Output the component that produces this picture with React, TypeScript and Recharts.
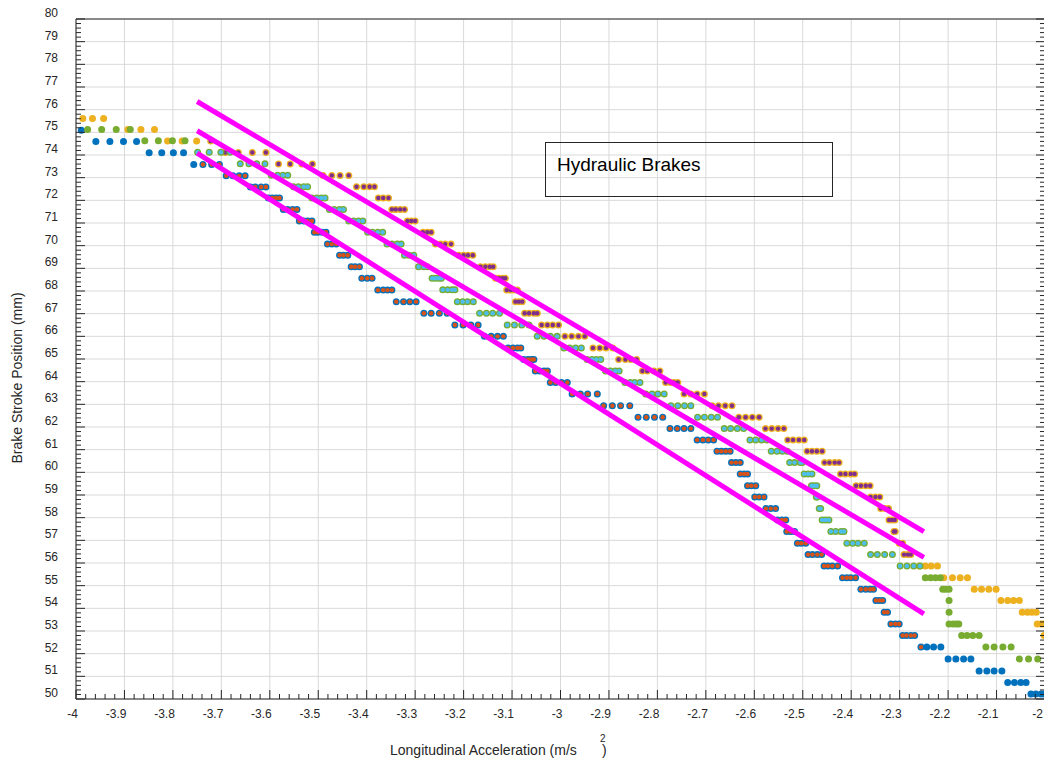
import React from 'react';
import { ScatterChart, Scatter, XAxis, YAxis, CartesianGrid } from 'recharts';

type Row = [number, number[]];

// brake stroke (mm) per quantised row, then the acceleration readings on that row
const blueRows: Row[] = [
  [75.09, [-3.989]],
  [74.6, [-3.959, -3.93, -3.902, -3.875]],
  [74.1, [-3.849, -3.823, -3.799, -3.778]],
  [73.58, [-3.757, -3.738, -3.72, -3.704]],
  [73.08, [-3.69, -3.676, -3.663, -3.651]],
  [72.59, [-3.64, -3.63, -3.618, -3.608]],
  [72.1, [-3.603, -3.595, -3.587, -3.58]],
  [71.6, [-3.572, -3.563, -3.553, -3.544]],
  [71.09, [-3.539, -3.53, -3.522, -3.513]],
  [70.59, [-3.508, -3.501, -3.492, -3.484]],
  [70.07, [-3.481, -3.472, -3.463]],
  [69.58, [-3.456, -3.448, -3.439]],
  [69.07, [-3.432, -3.424, -3.415]],
  [68.56, [-3.41, -3.399, -3.389]],
  [68.04, [-3.377, -3.366, -3.357, -3.348]],
  [67.53, [-3.339, -3.324, -3.311, -3.298]],
  [67.02, [-3.282, -3.267, -3.25, -3.234]],
  [66.5, [-3.218, -3.201, -3.185, -3.17]],
  [66.0, [-3.157, -3.143, -3.13, -3.118]],
  [65.49, [-3.108, -3.098, -3.089, -3.082]],
  [64.98, [-3.076, -3.067, -3.06, -3.055]],
  [64.47, [-3.052, -3.043, -3.034, -3.027]],
  [63.96, [-3.021, -3.01, -2.998, -2.986]],
  [63.46, [-2.976, -2.959, -2.944, -2.924]],
  [62.94, [-2.911, -2.893, -2.876, -2.857]],
  [62.43, [-2.84, -2.823, -2.806, -2.789]],
  [61.93, [-2.774, -2.759, -2.745, -2.731]],
  [61.43, [-2.718, -2.706, -2.695, -2.684]],
  [60.93, [-2.677, -2.668, -2.659, -2.65]],
  [60.43, [-2.647, -2.638, -2.629]],
  [59.93, [-2.629, -2.621, -2.614]],
  [59.41, [-2.614, -2.606, -2.597]],
  [58.91, [-2.599, -2.59, -2.58]],
  [58.4, [-2.576, -2.566, -2.556]],
  [57.9, [-2.552, -2.543, -2.535]],
  [57.39, [-2.533, -2.525, -2.517]],
  [56.87, [-2.511, -2.503, -2.494]],
  [56.37, [-2.489, -2.48, -2.47, -2.461]],
  [55.87, [-2.456, -2.448, -2.439, -2.428]],
  [55.35, [-2.418, -2.409, -2.401, -2.391]],
  [54.84, [-2.38, -2.37, -2.361, -2.354]],
  [54.35, [-2.349, -2.342, -2.335]],
  [53.83, [-2.332, -2.325]],
  [53.31, [-2.318, -2.309, -2.301]],
  [52.8, [-2.294, -2.286, -2.277, -2.269]],
  [52.29, [-2.256, -2.244, -2.23, -2.215]],
  [51.77, [-2.2, -2.184, -2.168, -2.153]],
  [51.24, [-2.136, -2.12, -2.105, -2.089]],
  [50.73, [-2.077, -2.063, -2.05, -2.039]],
  [50.22, [-2.029, -2.019, -2.008, -2.001]],
];

const yellowRows: Row[] = [
  [75.61, [-3.986, -3.966, -3.943]],
  [75.13, [-3.893, -3.866, -3.838]],
  [74.62, [-3.811, -3.781, -3.751, -3.722]],
  [74.11, [-3.692, -3.665, -3.636, -3.608]],
  [73.6, [-3.582, -3.558, -3.534, -3.512]],
  [73.1, [-3.49, -3.472, -3.455, -3.437]],
  [72.6, [-3.421, -3.406, -3.394, -3.384]],
  [72.1, [-3.376, -3.366, -3.355]],
  [71.6, [-3.348, -3.34, -3.331, -3.322]],
  [71.09, [-3.316, -3.308, -3.3]],
  [70.59, [-3.284, -3.275, -3.267]],
  [70.07, [-3.258, -3.248, -3.238, -3.226]],
  [69.58, [-3.21, -3.2, -3.191, -3.181]],
  [69.07, [-3.165, -3.155, -3.146, -3.139]],
  [68.56, [-3.134, -3.127, -3.12, -3.114]],
  [68.04, [-3.111, -3.103, -3.096, -3.089]],
  [67.53, [-3.093, -3.086, -3.079]],
  [67.02, [-3.074, -3.065, -3.055, -3.048]],
  [66.5, [-3.039, -3.027, -3.016, -3.004]],
  [66.0, [-2.991, -2.977, -2.963, -2.95]],
  [65.49, [-2.933, -2.919, -2.906, -2.892]],
  [64.98, [-2.88, -2.866, -2.855, -2.843]],
  [64.47, [-2.831, -2.821, -2.807, -2.795]],
  [63.96, [-2.783, -2.773, -2.766, -2.758]],
  [63.46, [-2.745, -2.731, -2.718, -2.703]],
  [62.94, [-2.687, -2.674, -2.66, -2.646]],
  [62.43, [-2.632, -2.618, -2.604, -2.59]],
  [61.93, [-2.577, -2.564, -2.551, -2.539]],
  [61.43, [-2.531, -2.52, -2.508, -2.497]],
  [60.93, [-2.491, -2.481, -2.471, -2.46]],
  [60.43, [-2.455, -2.445, -2.434, -2.425]],
  [59.93, [-2.422, -2.412, -2.401, -2.393]],
  [59.41, [-2.39, -2.38, -2.37, -2.361]],
  [58.91, [-2.36, -2.35, -2.341]],
  [58.4, [-2.339, -2.33, -2.323]],
  [57.9, [-2.322, -2.316, -2.31]],
  [57.39, [-2.312, -2.309]],
  [56.87, [-2.301, -2.294]],
  [56.37, [-2.291, -2.283, -2.277]],
  [55.87, [-2.259, -2.247, -2.235, -2.222]],
  [55.35, [-2.209, -2.191, -2.175, -2.16]],
  [54.84, [-2.146, -2.131, -2.116, -2.101]],
  [54.35, [-2.091, -2.077, -2.065, -2.053]],
  [53.83, [-2.047, -2.036, -2.027, -2.018]],
  [53.31, [-2.016, -2.008, -2.001]],
  [52.8, [-2.002]],
];

const greenRows: Row[] = [
  [75.13, [-3.976, -3.947, -3.917, -3.888]],
  [74.63, [-3.858, -3.83, -3.801, -3.775]],
  [74.12, [-3.749, -3.725, -3.701, -3.682]],
  [73.61, [-3.661, -3.643, -3.627, -3.61]],
  [73.11, [-3.597, -3.584, -3.573, -3.563]],
  [72.6, [-3.551, -3.541, -3.53, -3.522]],
  [72.1, [-3.513, -3.503, -3.494, -3.486]],
  [71.6, [-3.477, -3.467, -3.456, -3.448]],
  [71.09, [-3.437, -3.427, -3.417, -3.408]],
  [70.59, [-3.398, -3.388, -3.377, -3.367]],
  [70.07, [-3.358, -3.348, -3.337, -3.329]],
  [69.58, [-3.322, -3.313, -3.303]],
  [69.07, [-3.293, -3.282, -3.275]],
  [68.56, [-3.265, -3.258, -3.251, -3.246]],
  [68.05, [-3.243, -3.233, -3.224, -3.218]],
  [67.53, [-3.213, -3.202, -3.192, -3.18]],
  [67.02, [-3.167, -3.153, -3.14, -3.126]],
  [66.5, [-3.11, -3.095, -3.08, -3.065]],
  [66.0, [-3.048, -3.034, -3.021, -3.007]],
  [65.49, [-2.993, -2.981, -2.969, -2.957]],
  [64.98, [-2.945, -2.935, -2.926, -2.917]],
  [64.47, [-2.907, -2.897, -2.887, -2.879]],
  [63.96, [-2.867, -2.856, -2.847, -2.836]],
  [63.46, [-2.824, -2.811, -2.799, -2.786]],
  [62.94, [-2.772, -2.758, -2.744, -2.731]],
  [62.43, [-2.717, -2.703, -2.689, -2.676]],
  [61.93, [-2.662, -2.649, -2.635, -2.622]],
  [61.43, [-2.609, -2.597, -2.585, -2.574]],
  [60.93, [-2.565, -2.553, -2.542, -2.532]],
  [60.43, [-2.527, -2.517, -2.505, -2.501]],
  [59.93, [-2.497, -2.489, -2.481]],
  [59.41, [-2.482, -2.477, -2.471]],
  [58.91, [-2.472, -2.47]],
  [58.4, [-2.466, -2.463]],
  [57.9, [-2.46, -2.453, -2.446]],
  [57.39, [-2.442, -2.432, -2.421, -2.415]],
  [56.87, [-2.409, -2.397, -2.386, -2.373]],
  [56.37, [-2.36, -2.346, -2.331, -2.315]],
  [55.87, [-2.299, -2.285, -2.271, -2.258]],
  [55.35, [-2.247, -2.236, -2.226, -2.216]],
  [54.84, [-2.211, -2.205, -2.198]],
  [54.35, [-2.198]],
  [53.83, [-2.198]],
  [53.31, [-2.198, -2.19, -2.183, -2.178]],
  [52.8, [-2.172, -2.161, -2.149, -2.136]],
  [52.29, [-2.122, -2.105, -2.087, -2.07]],
  [51.77, [-2.053, -2.034, -2.015]],
];

// acceleration window used for the linear fits
const fitFrom = -3.75;
const fitTo = -2.25;

const blueFit = [{ x: -3.75, y: 74.08 }, { x: -2.25, y: 53.76 }];
const greenFit = [{ x: -3.75, y: 75.07 }, { x: -2.25, y: 56.25 }];
const yellowFit = [{ x: -3.75, y: 76.36 }, { x: -2.25, y: 57.38 }];

const xMajorTicks = [-4, -3.9, -3.8, -3.7, -3.6, -3.5, -3.4, -3.3, -3.2, -3.1, -3, -2.9, -2.8, -2.7, -2.6, -2.5, -2.4, -2.3, -2.2, -2.1, -2];
const yMajorTicks = [50, 51, 52, 53, 54, 55, 56, 57, 58, 59, 60, 61, 62, 63, 64, 65, 66, 67, 68, 69, 70, 71, 72, 73, 74, 75, 76, 77, 78, 79, 80];

const withMinor = (major: number[], parts: number) => {
  const out: number[] = [];
  for (let i = 0; i < major.length - 1; i++) {
    const a = major[i];
    const b = major[i + 1];
    for (let k = 1; k < parts; k++) out.push(a + ((b - a) * k) / parts);
  }
  return [...major, ...out].sort((p, q) => p - q);
};
const xTicks = withMinor(xMajorTicks, 5);
const yTicks = withMinor(yMajorTicks, 5);

const toPoints = (rows: Row[]) => rows.flatMap(([y, xs]) => xs.map((x) => ({ x, y })));
const inFit = (p: { x: number }) => p.x >= fitFrom && p.x <= fitTo;

const bluePts = toPoints(blueRows);
const yellowPts = toPoints(yellowRows);
const greenPts = toPoints(greenRows);

const AXIS = '#262626';
const FONT = '"Liberation Sans", Arial, Helvetica, sans-serif';

const BottomTick = (props: any) => {
  const { x, y, payload } = props;
  const major = xMajorTicks.includes(payload.value);
  return (
    <g>
      <line x1={x} x2={x} y1={y} y2={y - (major ? 9 : 5)} stroke={AXIS} />
      {major && (
        <text x={Math.min(x + 2, 1043)} y={y + 19} textAnchor="end" fontSize={12} fontFamily={FONT} fill={AXIS}>
          {String(payload.value)}
        </text>
      )}
    </g>
  );
};

const TopTick = (props: any) => {
  const { x, y, payload } = props;
  const major = xMajorTicks.includes(payload.value);
  return <line x1={x} x2={x} y1={y} y2={y + (major ? 9 : 5)} stroke={AXIS} />;
};

const LeftTick = (props: any) => {
  const { x, y, payload } = props;
  const major = yMajorTicks.includes(payload.value);
  return (
    <g>
      <line x1={x} x2={x + (major ? 9 : 5)} y1={y} y2={y} stroke={AXIS} />
      {major && (
        <text x={x - 18} y={y - 2} textAnchor="end" fontSize={12} fontFamily={FONT} fill={AXIS}>
          {String(payload.value)}
        </text>
      )}
    </g>
  );
};

const RightTick = (props: any) => {
  const { x, y, payload } = props;
  const major = yMajorTicks.includes(payload.value);
  return <line x1={x} x2={x - (major ? 9 : 5)} y1={y} y2={y} stroke={AXIS} />;
};

const dot = (r: number, fill: string) => (props: any) => (
  <circle cx={props.cx} cy={props.cy} r={r} fill={fill} />
);
const noDot = () => <g />;

const fitLine = { stroke: '#FF00FF', strokeWidth: 5 };

export default function App() {
  return (
    <div style={{ position: 'relative', width: 1044, height: 764, overflow: 'hidden', background: '#fff', fontFamily: FONT }}>
      <style>{'body{margin:0}'}</style>
      <ScatterChart width={1046} height={764} margin={{ top: 18, right: 0, bottom: 64, left: 75 }}>
        <CartesianGrid stroke="#d9d9d9" verticalValues={xMajorTicks} horizontalValues={yMajorTicks} />
        <XAxis
          type="number"
          dataKey="x"
          domain={[-4, -2]}
          ticks={xTicks}
          interval={0}
          height={1}
          tickSize={0}
          tickMargin={0}
          tickLine={false}
          tick={BottomTick}
          axisLine={{ stroke: AXIS }}
          allowDataOverflow
        />
        <XAxis
          xAxisId="top"
          orientation="top"
          type="number"
          domain={[-4, -2]}
          ticks={xTicks}
          interval={0}
          height={1}
          tickSize={0}
          tickMargin={0}
          tickLine={false}
          tick={TopTick}
          axisLine={{ stroke: AXIS }}
          allowDataOverflow
        />
        <YAxis
          type="number"
          dataKey="y"
          domain={[50, 80]}
          ticks={yTicks}
          interval={0}
          width={1}
          tickSize={0}
          tickMargin={0}
          tickLine={false}
          tick={LeftTick}
          axisLine={{ stroke: AXIS }}
          allowDataOverflow
        />
        <YAxis
          yAxisId="right"
          orientation="right"
          type="number"
          domain={[50, 80]}
          ticks={yTicks}
          interval={0}
          width={1}
          tickSize={0}
          tickMargin={0}
          tickLine={false}
          tick={RightTick}
          axisLine={{ stroke: AXIS }}
          allowDataOverflow
        />
        <Scatter data={bluePts} shape={dot(3.5, '#0072BD')} isAnimationActive={false} />
        <Scatter data={bluePts.filter(inFit)} shape={dot(2.2, '#D95319')} isAnimationActive={false} />
        <Scatter data={yellowPts} shape={dot(3.5, '#EDB120')} isAnimationActive={false} />
        <Scatter data={yellowPts.filter(inFit)} shape={dot(2.2, '#7E2F8E')} isAnimationActive={false} />
        <Scatter data={greenPts} shape={dot(3.5, '#77AC30')} isAnimationActive={false} />
        <Scatter data={greenPts.filter(inFit)} shape={dot(2.2, '#4DBEEE')} isAnimationActive={false} />
        <Scatter data={yellowFit} line={fitLine} shape={noDot} isAnimationActive={false} />
        <Scatter data={greenFit} line={fitLine} shape={noDot} isAnimationActive={false} />
        <Scatter data={blueFit} line={fitLine} shape={noDot} isAnimationActive={false} />
      </ScatterChart>

      <div
        style={{
          position: 'absolute',
          left: 17,
          top: 378,
          transform: 'translate(-50%, -50%) rotate(-90deg)',
          whiteSpace: 'nowrap',
          fontSize: 14,
          color: AXIS,
        }}
      >
        Brake Stroke Position (mm)
      </div>
      <div style={{ position: 'absolute', left: 390, top: 742, fontSize: 14, color: AXIS, whiteSpace: 'nowrap' }}>
        Longitudinal Acceleration (m/s
      </div>
      <div style={{ position: 'absolute', left: 600, top: 733, fontSize: 10, color: AXIS }}>2</div>
      <div style={{ position: 'absolute', left: 602, top: 742, fontSize: 14, color: AXIS }}>)</div>

      <div
        style={{
          position: 'absolute',
          left: 545,
          top: 142,
          width: 288,
          height: 55,
          boxSizing: 'border-box',
          border: `1px solid ${AXIS}`,
          fontSize: 19,
          lineHeight: '22px',
          color: '#000',
          padding: '11px 0 0 11px',
          whiteSpace: 'nowrap',
        }}
      >
        Hydraulic Brakes
      </div>
    </div>
  );
}
